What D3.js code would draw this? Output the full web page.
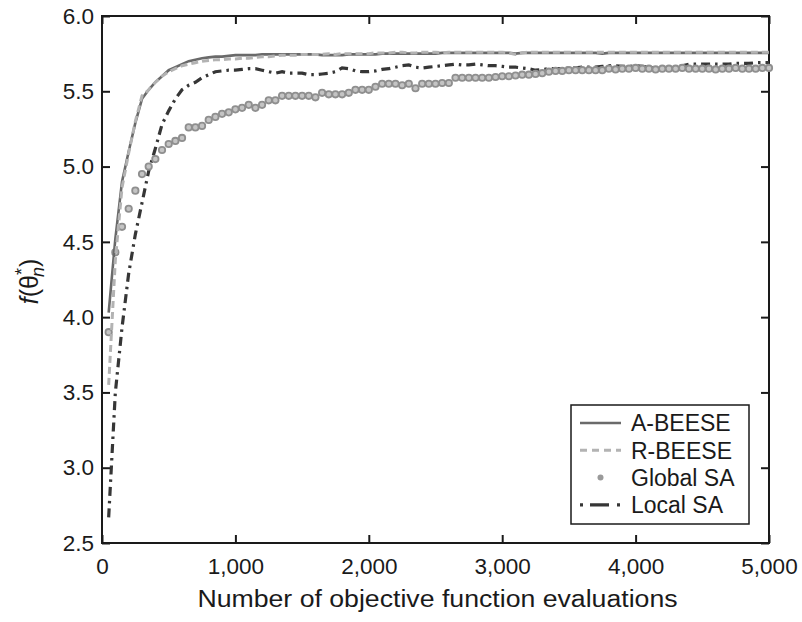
<!DOCTYPE html>
<html>
<head>
<meta charset="utf-8">
<script src="https://cdnjs.cloudflare.com/ajax/libs/d3/7.8.5/d3.min.js"></script>
<style>
  body { margin: 0; background: #fff; }
  text { font-family: "Liberation Sans", Arial, Helvetica, sans-serif; fill: #1a1a1a; }
</style>
</head>
<body>
<div id="chart"></div>
<script>
// DATA //
// evaluation grid: one sample every 50 evaluations
var evals = d3.range(50, 5001, 50)

var aBeese = [4.03, 4.52, 4.90, 5.10, 5.29, 5.45, 5.51, 5.56, 5.60, 5.64,
  5.66, 5.68, 5.70, 5.71, 5.72, 5.725, 5.73, 5.73, 5.735, 5.74,
  5.74, 5.74, 5.74, 5.745, 5.745, 5.745, 5.745, 5.745, 5.745, 5.745,
  5.745, 5.745, 5.74, 5.74, 5.74, 5.74, 5.745, 5.745, 5.745, 5.745,
  5.745, 5.75, 5.75, 5.75, 5.75, 5.75, 5.75, 5.75, 5.75, 5.75,
  5.755, 5.755, 5.755, 5.755, 5.755, 5.755, 5.755, 5.755, 5.755, 5.755,
  5.755, 5.75, 5.755, 5.755, 5.755, 5.755, 5.755, 5.755, 5.755, 5.755,
  5.755, 5.755, 5.755, 5.755, 5.75, 5.755, 5.755, 5.755, 5.755, 5.755,
  5.755, 5.755, 5.755, 5.755, 5.755, 5.755, 5.755, 5.755, 5.755, 5.755,
  5.755, 5.755, 5.755, 5.755, 5.755, 5.755, 5.755, 5.755, 5.755, 5.755]

var rBeese = [3.55, 4.38, 4.86, 5.09, 5.30, 5.47, 5.51, 5.56, 5.60, 5.63,
  5.65, 5.67, 5.68, 5.69, 5.70, 5.705, 5.71, 5.71, 5.715, 5.715,
  5.72, 5.72, 5.725, 5.73, 5.73, 5.735, 5.74, 5.74, 5.74, 5.745,
  5.745, 5.745, 5.745, 5.75, 5.745, 5.75, 5.75, 5.75, 5.75, 5.75,
  5.755, 5.755, 5.755, 5.76, 5.76, 5.755, 5.755, 5.76, 5.76, 5.76,
  5.755, 5.76, 5.76, 5.76, 5.76, 5.76, 5.76, 5.76, 5.76, 5.76,
  5.755, 5.745, 5.755, 5.76, 5.76, 5.76, 5.76, 5.76, 5.76, 5.76,
  5.76, 5.76, 5.76, 5.76, 5.76, 5.76, 5.76, 5.76, 5.76, 5.76,
  5.76, 5.76, 5.76, 5.76, 5.76, 5.76, 5.76, 5.76, 5.76, 5.76,
  5.76, 5.76, 5.76, 5.76, 5.76, 5.76, 5.76, 5.76, 5.76, 5.76]

var globalSA = [3.90, 4.43, 4.60, 4.72, 4.84, 4.95, 5.00, 5.05, 5.11, 5.15,
  5.17, 5.19, 5.26, 5.26, 5.27, 5.31, 5.33, 5.35, 5.36, 5.38,
  5.39, 5.41, 5.39, 5.41, 5.44, 5.44, 5.47, 5.47, 5.47, 5.47,
  5.47, 5.46, 5.49, 5.48, 5.48, 5.48, 5.49, 5.51, 5.51, 5.51,
  5.53, 5.55, 5.55, 5.55, 5.54, 5.55, 5.52, 5.55, 5.55, 5.55,
  5.555, 5.555, 5.59, 5.59, 5.59, 5.59, 5.59, 5.59, 5.595, 5.60,
  5.60, 5.605, 5.61, 5.61, 5.615, 5.62, 5.63, 5.635, 5.635, 5.64,
  5.64, 5.64, 5.64, 5.64, 5.64, 5.65, 5.645, 5.65, 5.65, 5.655,
  5.65, 5.65, 5.645, 5.65, 5.65, 5.65, 5.655, 5.65, 5.65, 5.65,
  5.65, 5.645, 5.65, 5.65, 5.655, 5.65, 5.65, 5.65, 5.655, 5.655]

var localSA = [2.67, 3.50, 3.93, 4.29, 4.55, 4.76, 4.97, 5.12, 5.28, 5.37,
  5.45, 5.51, 5.54, 5.56, 5.59, 5.61, 5.63, 5.635, 5.64, 5.64,
  5.645, 5.65, 5.65, 5.64, 5.63, 5.62, 5.63, 5.62, 5.62, 5.62,
  5.61, 5.61, 5.615, 5.62, 5.63, 5.655, 5.65, 5.635, 5.63, 5.63,
  5.635, 5.645, 5.65, 5.66, 5.67, 5.675, 5.66, 5.655, 5.66, 5.665,
  5.67, 5.675, 5.68, 5.675, 5.675, 5.68, 5.675, 5.67, 5.67, 5.665,
  5.66, 5.66, 5.655, 5.65, 5.64, 5.645, 5.65, 5.65, 5.65, 5.655,
  5.655, 5.66, 5.66, 5.66, 5.665, 5.67, 5.67, 5.665, 5.665, 5.67,
  5.665, 5.66, 5.655, 5.65, 5.645, 5.66, 5.67, 5.68, 5.68, 5.68,
  5.68, 5.68, 5.68, 5.68, 5.685, 5.685, 5.685, 5.69, 5.69, 5.69]

var xTicks = [0, 1000, 2000, 3000, 4000, 5000]
var yTicks = [2.5, 3.0, 3.5, 4.0, 4.5, 5.0, 5.5, 6.0]
var seriesNames = ["A-BEESE", "R-BEESE", "Global SA", "Local SA"]

// SETUP //
var W = 802, H = 622
var margin = {top: 16, right: 33, bottom: 79, left: 102}
var width = W - margin.left - margin.right
var height = H - margin.top - margin.bottom

var svg = d3.select("#chart").append("svg")
  .attr("width", W)
  .attr("height", H)

var g = svg.append("g")
  .attr("transform", "translate(" + margin.left + "," + margin.top + ")")

var x = d3.scaleLinear().domain([0, 5000]).range([0, width])
var y = d3.scaleLinear().domain([2.5, 6.0]).range([height, 0])

// AXES (ticks pointing inward on all four sides) //
function styleAxis(sel) {
  sel.select(".domain").remove()
  sel.selectAll("line").attr("stroke", "#1a1a1a").attr("stroke-width", 2)
  sel.selectAll("text").style("font-size", "22.5px").attr("fill", "#1a1a1a")
}

g.append("g")
  .attr("transform", "translate(0," + height + ")")
  .call(d3.axisBottom(x).tickValues(xTicks).tickSizeInner(-8).tickSizeOuter(0).tickPadding(15).tickFormat(d3.format(",")))
  .call(styleAxis)

g.append("g")
  .call(d3.axisTop(x).tickValues(xTicks).tickSizeInner(-8).tickSizeOuter(0).tickFormat(""))
  .call(styleAxis)

g.append("g")
  .call(d3.axisLeft(y).tickValues(yTicks).tickSizeInner(-8).tickSizeOuter(0).tickPadding(8).tickFormat(d3.format(".1f")))
  .call(styleAxis)

g.append("g")
  .attr("transform", "translate(" + width + ",0)")
  .call(d3.axisRight(y).tickValues(yTicks).tickSizeInner(-8).tickSizeOuter(0).tickFormat(""))
  .call(styleAxis)

g.append("rect")
  .attr("width", width)
  .attr("height", height)
  .attr("fill", "none")
  .attr("stroke", "#1a1a1a")
  .attr("stroke-width", 2)

// SERIES //
var line = d3.line()
  .x(d => x(d[0]))
  .y(d => y(d[1]))

function pairs(vals) { return evals.map((e, i) => [e, vals[i]]) }

g.append("path")
  .datum(pairs(localSA))
  .attr("d", line)
  .attr("fill", "none")
  .attr("stroke", "#363636")
  .attr("stroke-width", 3.2)
  .attr("stroke-dasharray", "9,5,2.5,5")

g.selectAll(".gsa")
  .data(pairs(globalSA))
  .enter().append("circle")
    .attr("class", "gsa")
    .attr("cx", d => x(d[0]))
    .attr("cy", d => y(d[1]))
    .attr("r", 3.2)
    .attr("fill", "#c4c4c4")
    .attr("stroke", "#8f8f8f")
    .attr("stroke-width", 1.8)

g.append("path")
  .datum(pairs(aBeese))
  .attr("d", line)
  .attr("fill", "none")
  .attr("stroke", "#6a6a6a")
  .attr("stroke-width", 2.6)

g.append("path")
  .datum(pairs(rBeese))
  .attr("d", line)
  .attr("fill", "none")
  .attr("stroke", "#b3b3b3")
  .attr("stroke-width", 3)
  .attr("stroke-dasharray", "7,4")

// AXIS TITLES //
// the source figure is a little wider than tall, so stretch the title sideways
svg.append("g")
  .attr("transform", "translate(" + (margin.left + width / 2 + 2) + ",607) scale(1.16,1)")
  .append("text")
    .attr("text-anchor", "middle")
    .style("font-size", "23px")
    .text("Number of objective function evaluations")

var ylab = svg.append("text")
  .attr("transform", "translate(38," + (margin.top + height / 2 + 2) + ") rotate(-90)")
  .attr("text-anchor", "middle")
  .style("font-size", "25px")
ylab.append("tspan").style("font-style", "italic").text("f")
ylab.append("tspan").text("(\u03B8")
ylab.append("tspan").attr("dy", -10).style("font-size", "18px").text("*")
ylab.append("tspan").attr("dx", -9).attr("dy", 16).style("font-size", "18px").style("font-style", "italic").text("n")
ylab.append("tspan").attr("dy", -6).text(")")

// LEGEND //
var legendG = g.append("g")
  .attr("transform", "translate(" + (width - 198) + "," + (height - 138) + ")")

legendG.append("rect")
  .attr("width", 178)
  .attr("height", 119)
  .attr("fill", "#fff")
  .attr("stroke", "#1a1a1a")
  .attr("stroke-width", 1.5)

var legend = legendG.selectAll(".legend")
  .data(seriesNames)
  .enter().append("g")
    .attr("class", "legend")
    .attr("transform", (d, i) => "translate(0," + (18 + i * 27.3) + ")")

legend.filter((d, i) => i !== 2).append("line")
  .attr("x1", 9)
  .attr("x2", 50)
  .attr("stroke", (d, i) => ["#6a6a6a", "#b3b3b3", "#363636"][i])
  .attr("stroke-width", (d, i) => [2.6, 3, 3.2][i])
  .attr("stroke-dasharray", (d, i) => [null, "7,5", "3,7,19,8,3,20"][i])

legend.filter((d, i) => i === 2).append("circle")
  .attr("cx", 29.5)
  .attr("r", 3)
  .attr("fill", "#9a9a9a")

legend.append("text")
  .attr("x", 60)
  .attr("dy", "0.36em")
  .style("font-size", "23px")
  .text(d => d)
</script>
</body>
</html>
